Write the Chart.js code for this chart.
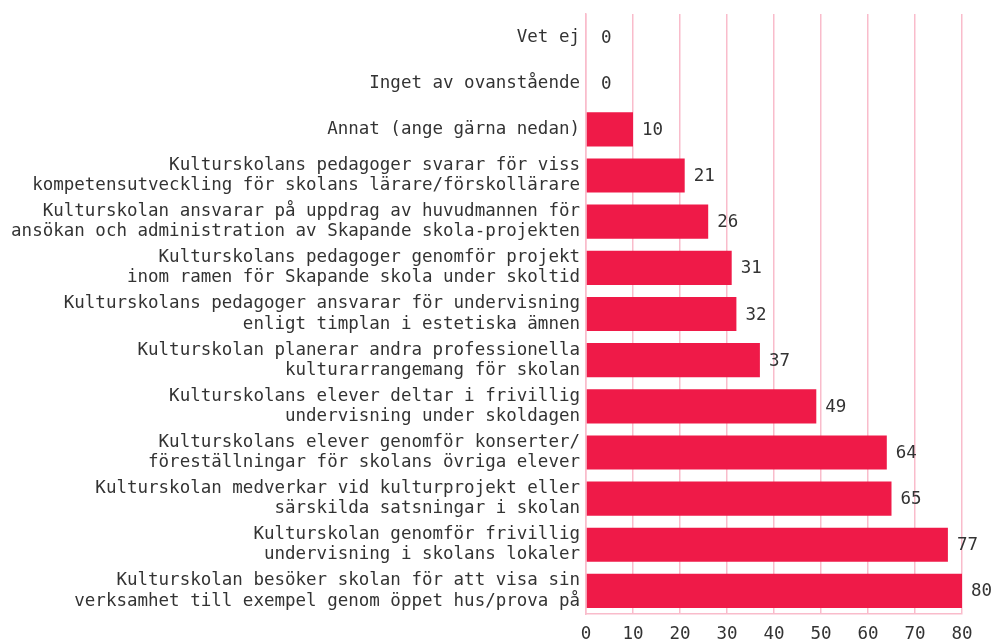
<!DOCTYPE html>
<html lang="sv">
<head>
<meta charset="UTF-8">
<script src="https://cdn.jsdelivr.net/npm/chart.js"></script>
<style>
    html, body { margin: 0; padding: 0; background: #fff; }
    #wrap { width: 995px; height: 640px; }
</style>
</head>
<body>
<div id="wrap"><canvas id="myChart"></canvas></div>
<script>
    // svarsalternativ (flerradiga etiketter)
    var categories = [
        ['Vet ej'],
        ['Inget av ovanstående'],
        ['Annat (ange gärna nedan)'],
        ['Kulturskolans pedagoger svarar för viss', 'kompetensutveckling för skolans lärare/förskollärare'],
        ['Kulturskolan ansvarar på uppdrag av huvudmannen för', 'ansökan och administration av Skapande skola-projekten'],
        ['Kulturskolans pedagoger genomför projekt', 'inom ramen för Skapande skola under skoltid'],
        ['Kulturskolans pedagoger ansvarar för undervisning', 'enligt timplan i estetiska ämnen'],
        ['Kulturskolan planerar andra professionella', 'kulturarrangemang för skolan'],
        ['Kulturskolans elever deltar i frivillig', 'undervisning under skoldagen'],
        ['Kulturskolans elever genomför konserter/', 'föreställningar för skolans övriga elever'],
        ['Kulturskolan medverkar vid kulturprojekt eller', 'särskilda satsningar i skolan'],
        ['Kulturskolan genomför frivillig', 'undervisning i skolans lokaler'],
        ['Kulturskolan besöker skolan för att visa sin', 'verksamhet till exempel genom öppet hus/prova på']
    ];
    var values = [0, 0, 10, 21, 26, 31, 32, 37, 49, 64, 65, 77, 80];
    var xTicks = [0, 10, 20, 30, 40, 50, 60, 70, 80];

    var FONT = '"DejaVu Sans Mono", "Liberation Mono", monospace';
    var textColor = '#333333';
    var gridColor = '#f9bccb';

    var valueLabels = {
        id: 'valueLabels',
        afterDatasetsDraw: function (chart) {
            var ctx = chart.ctx;
            var meta = chart.getDatasetMeta(0);
            ctx.save();
            ctx.font = '17.5px ' + FONT;
            ctx.fillStyle = textColor;
            ctx.textAlign = 'left';
            ctx.textBaseline = 'middle';
            meta.data.forEach(function (bar, i) {
                var v = values[i];
                var x = bar.x + 9;
                if (v === 0) x += 6;
                ctx.fillText(String(v), x, bar.y + 1);
            });
            ctx.restore();
        }
    };

    var myChart = new Chart(document.getElementById('myChart'), {
        type: 'bar',
        data: {
            labels: categories,
            datasets: [{
                data: values,
                backgroundColor: '#ef1a48',
                borderWidth: 0,
                barPercentage: 0.74,
                categoryPercentage: 1
            }]
        },
        options: {
            indexAxis: 'y',
            responsive: true,
            maintainAspectRatio: false,
            animation: false,
            layout: { padding: { top: 14, right: 33, bottom: 0, left: 0 } },
            plugins: {
                legend: { display: false },
                tooltip: { enabled: false }
            },
            scales: {
                x: {
                    min: 0,
                    max: 80,
                    afterBuildTicks: function (scale) {
                        scale.ticks = xTicks.map(function (v) { return { value: v }; });
                    },
                    afterFit: function (scale) {
                        scale.height = 26;
                        scale.paddingLeft = 0;
                        scale.paddingRight = 0;
                    },
                    grid: { color: gridColor, lineWidth: 1.5, drawTicks: false },
                    border: { color: gridColor, width: 1.5 },
                    ticks: {
                        padding: 10,
                        color: textColor,
                        font: { family: FONT, size: 17.5 }
                    }
                },
                y: {
                    afterFit: function (scale) {
                        scale.width = 586;
                        scale.paddingTop = 0;
                        scale.paddingBottom = 0;
                    },
                    grid: { display: false, drawTicks: false },
                    border: { color: gridColor, width: 1.5 },
                    ticks: {
                        padding: 6,
                        color: textColor,
                        font: { family: FONT, size: 17.5, lineHeight: 1.15 }
                    }
                }
            }
        },
        plugins: [valueLabels]
    });
</script>
</body>
</html>
